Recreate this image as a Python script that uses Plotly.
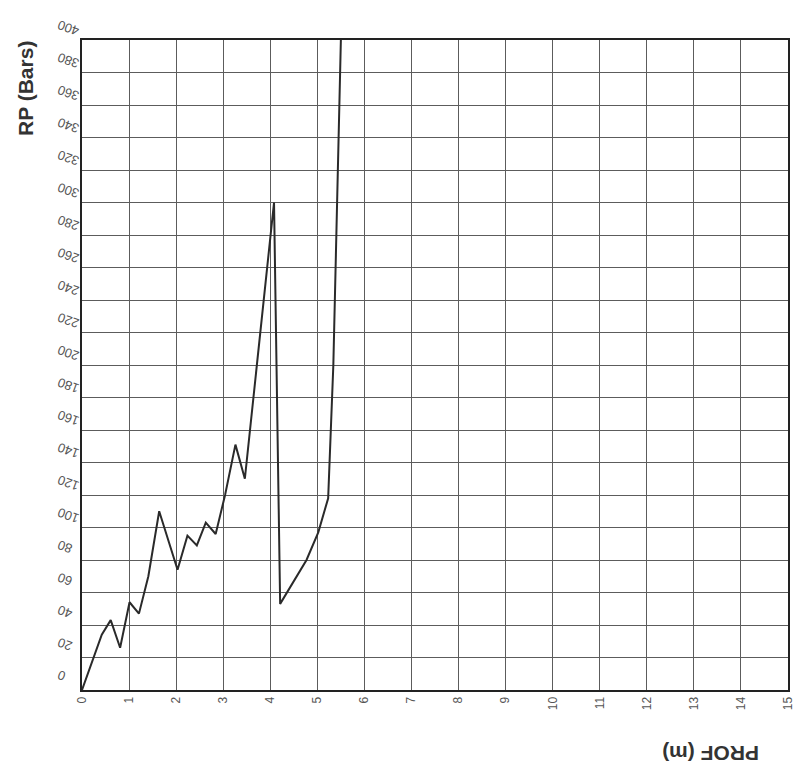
import plotly.graph_objects as go

# Data
prof_m = [0.0, 0.42, 0.61, 0.81, 1.01, 1.21, 1.41, 1.64, 2.03, 2.24, 2.44, 2.63, 2.84, 3.04, 3.26, 3.46,
          4.08, 4.21, 4.77, 5.02, 5.23, 5.34, 5.50]
rp_bars = [0, 34, 43, 26, 54, 47, 70, 110, 74, 95, 89, 103, 96, 120, 151, 130,
           300, 53, 80, 97, 118, 200, 400]

x_ticks = list(range(0, 16))
y_ticks = list(range(0, 401, 20))

fig = go.Figure()
fig.add_trace(go.Scatter(x=prof_m, y=rp_bars, mode="lines",
                         line=dict(color="#2a2a2a", width=2), showlegend=False,
                         cliponaxis=True))

fig.update_layout(
    width=796, height=776,
    margin=dict(l=82, r=8, t=40, b=86),
    paper_bgcolor="white", plot_bgcolor="white",
    font=dict(family="Liberation Sans, Arial, sans-serif", color="#555555"),
    xaxis=dict(range=[0, 15], tickvals=x_ticks, ticktext=[str(v) for v in x_ticks],
               tickangle=-90, showgrid=True, gridcolor="#5c5c5c", gridwidth=1.4,
               zeroline=False, showline=True, linecolor="#222222", linewidth=2, mirror=True,
               ticks="", tickfont=dict(size=12, color="#555555"), automargin=False),
    yaxis=dict(range=[0, 400], tickvals=y_ticks, ticktext=[str(v) for v in y_ticks],
               tickangle=-160, showgrid=True, gridcolor="#5c5c5c", gridwidth=1.4,
               zeroline=False, showline=True, linecolor="#222222", linewidth=2, mirror=True,
               ticks="", tickfont=dict(size=13, color="#555555"), automargin=False,
               ticklabelstandoff=20, ticklabelshift=-12),
    annotations=[
        dict(text="<b>RP (Bars)</b>", xref="paper", yref="paper", x=-0.081, y=0.926,
             xanchor="center", yanchor="middle", textangle=-90, showarrow=False,
             font=dict(size=21, color="#333333")),
        dict(text="<b>PROF (m)</b>", xref="paper", yref="paper", x=0.8895, y=-0.0985,
             xanchor="center", yanchor="middle", textangle=180, showarrow=False,
             font=dict(size=21, color="#333333")),
    ],
)

fig.write_html("out.html", config={"displayModeBar": False},
               post_script="document.body.style.margin='0';")
